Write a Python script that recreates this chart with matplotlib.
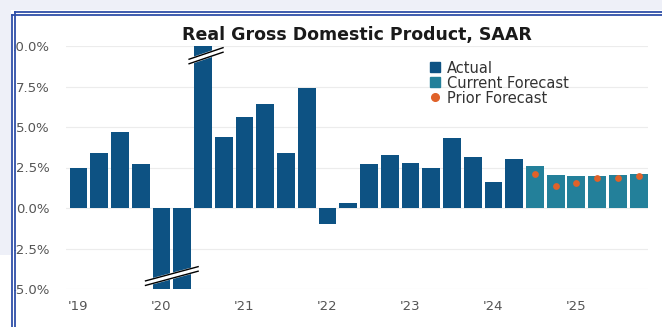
import numpy as np
import matplotlib
matplotlib.use("Agg")
import matplotlib.pyplot as plt
from matplotlib.lines import Line2D
from matplotlib.patches import Rectangle

# quarterly real GDP growth, SAAR (%), 2019Q1 - 2025Q4
actual = [2.5, 3.4, 4.7, 2.7,
          -5.5, -28.0, 35.0, 4.4,
          5.6, 6.4, 3.4, 7.4,
          -1.0, 0.3, 2.7, 3.3,
          2.8, 2.45, 4.35, 3.15,
          1.6, 3.0]
current_forecast = [2.6, 2.05, 1.95, 1.98, 2.03, 2.07]
prior_forecast = [2.1, 1.38, 1.52, 1.88, 1.86, 1.98]
year_labels = ["'19", "'20", "'21", "'22", "'23", "'24", "'25"]
y_ticks = [-5.0, -2.5, 0.0, 2.5, 5.0, 7.5, 10.0]

c_actual = "#0d5283"
c_fcst = "#23809a"
c_prior = "#e0622a"

plt.rcParams['font.family'] = ['DejaVu Sans']

fig = plt.figure(figsize=(6.62, 3.27), dpi=100)
fig.patch.set_facecolor("white")

ax = fig.add_axes([66/662, 1-289/327, 582/662, 243/327])
ymin, ymax = y_ticks[0], y_ticks[-1]

xa = np.arange(len(actual))
xf = np.arange(len(actual), len(actual) + len(current_forecast))
w = 0.86
ax.bar(xa, np.clip(actual, ymin, ymax), width=w, color=c_actual, zorder=2)
ax.bar(xf, current_forecast, width=w, color=c_fcst, zorder=2)
ax.scatter(xf, prior_forecast, s=24, color=c_prior, zorder=3, linewidths=0)

# axis-break marks on clipped bars
def break_mark(xc, yc, half, rise):
    xs = [xc - half, xc + half]
    for dy, lw, col in [(0, 4.5, "white"), (0.14, 1.0, "black"), (-0.14, 1.0, "black")]:
        ax.plot(xs, [yc - rise + dy, yc + rise + dy], color=col, lw=lw,
                solid_capstyle="butt", zorder=4, clip_on=False)

clipped = [i for i, v in enumerate(actual) if v > ymax or v < ymin]
top = [i for i in clipped if actual[i] > ymax]
bot = [i for i in clipped if actual[i] < ymin]
break_mark(np.mean(top) + 0.15, ymax - 0.6, 0.85, 0.37)
break_mark(np.mean(bot), ymin + 0.8, 1.3, 0.45)

ax.set_xlim(-0.6, len(actual) + len(current_forecast) - 0.55)
ax.set_ylim(ymin, ymax)
ax.set_yticks(y_ticks)
ax.set_yticklabels([f"{v:.1f}%" for v in y_ticks])
ax.set_xticks(np.arange(0, 28, 4))
ax.set_xticklabels(year_labels)
ax.tick_params(length=0, labelsize=9.5, labelcolor="#555555")
ax.tick_params(axis="y", pad=11.5)
ax.tick_params(axis="x", pad=8)
for s in ax.spines.values():
    s.set_visible(False)
ax.grid(axis="y", color="#ececec", lw=0.8, zorder=0)
ax.set_axisbelow(True)

ax.set_title("Real Gross Domestic Product, SAAR", fontsize=12.5, fontweight="bold",
             color="#1a1a1a", pad=4)

handles = [Line2D([], [], ls="", marker="s", ms=7, color=c_actual),
           Line2D([], [], ls="", marker="s", ms=7, color=c_fcst),
           Line2D([], [], ls="", marker="o", ms=5.5, color=c_prior)]
leg = ax.legend(handles, ["Actual", "Current Forecast", "Prior Forecast"],
                loc="upper left", bbox_to_anchor=(0.612, 0.97), frameon=False,
                fontsize=10.5, handlelength=0.8, handletextpad=0.4,
                labelspacing=0.0, borderpad=0)
for t in leg.get_texts():
    t.set_color("#333333")

# screenshot frame: tinted strips and blue double border
tint = "#eef0f8"
blue = "#2f4fa8"
fig.add_artist(Rectangle((0, 1-10/327), 1, 10/327, transform=fig.transFigure,
                         color=tint, zorder=10, lw=0))
fig.add_artist(Rectangle((0, 1-255/327), 11/662, 245/327, transform=fig.transFigure,
                         color=tint, zorder=10, lw=0))
fig.add_artist(Rectangle((0, 0), 12.5/662, 1-255/327, transform=fig.transFigure,
                         color="white", zorder=10, lw=0))
fig.add_artist(Rectangle((11/662, 0), 3/662, 1-11/327, transform=fig.transFigure,
                         color="white", zorder=10, lw=0))
for xp in [11.5, 14.5]:
    fig.add_artist(Line2D([xp/662, xp/662], [0, 1-(26-xp)/327], transform=fig.transFigure,
                          color=blue, lw=1.3, zorder=11))
for yp in [11.5, 14.5]:
    fig.add_artist(Line2D([(26-yp)/662, 1], [1-yp/327, 1-yp/327], transform=fig.transFigure,
                          color=blue, lw=1.3, zorder=11))

fig.savefig("out.png", dpi=100)
